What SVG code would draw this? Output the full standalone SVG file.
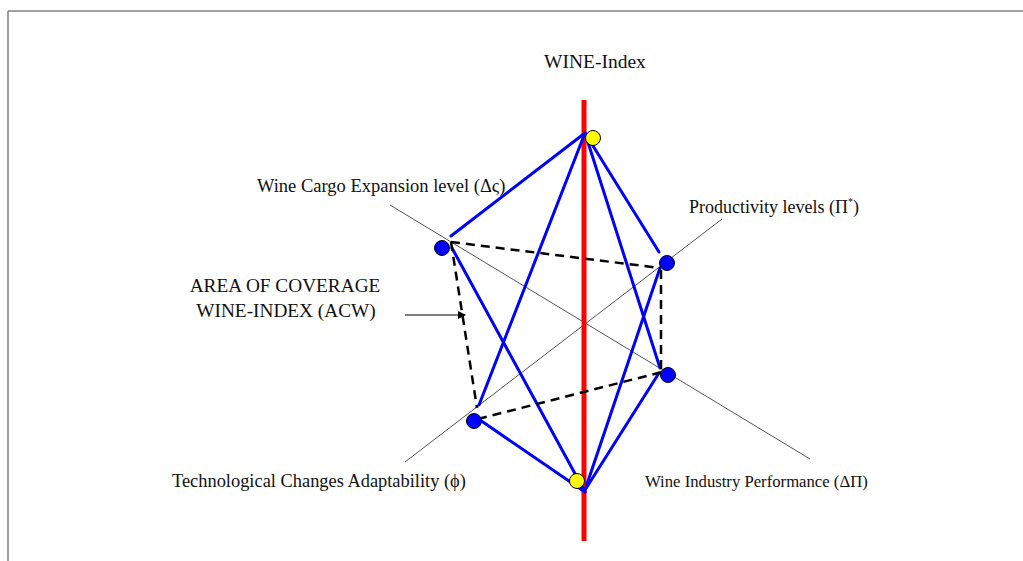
<svg xmlns="http://www.w3.org/2000/svg" width="1023" height="561" viewBox="0 0 1023 561">
<defs>
<style>
text{font-family:"Liberation Serif","Times New Roman",serif;fill:#111;}
.blue{stroke:#0000ff;stroke-width:3;fill:none;stroke-linecap:round;}
.dash{stroke:#000;stroke-width:2.5;stroke-dasharray:9,6;fill:none;}
.axis{stroke:#555;stroke-width:1;fill:none;}
.bnode{fill:#0000ff;stroke:#000;stroke-width:1;}
.ynode{fill:#ffff00;stroke:#000;stroke-width:1;}
</style>
<marker id="ah" markerWidth="8" markerHeight="8" refX="7" refY="4" orient="auto" markerUnits="userSpaceOnUse">
<path d="M0,0 L8,4 L0,8 z" fill="#000"/>
</marker>
</defs>
<rect width="1023" height="561" fill="#fff"/>
<g id="frame">
<line x1="8" y1="11" x2="1023" y2="11" stroke="#808080" stroke-width="1.5"/>
<line x1="8" y1="11" x2="8" y2="561" stroke="#808080" stroke-width="1.5"/>
</g>
<g id="connectors">
<line class="axis" x1="390" y1="205" x2="810" y2="459"/>
<line class="axis" x1="722" y1="219" x2="405" y2="462"/>
<line x1="584" y1="100" x2="584" y2="541" stroke="#ff0000" stroke-width="5"/>
<line class="blue" x1="585" y1="133" x2="451" y2="236"/>
<line class="blue" x1="585" y1="133" x2="479" y2="405"/>
<line class="blue" x1="585" y1="133" x2="659" y2="252"/>
<line class="blue" x1="585" y1="133" x2="660" y2="368"/>
<line class="blue" x1="452" y1="248" x2="585" y2="492"/>
<line class="blue" x1="480" y1="420" x2="585" y2="492"/>
<line class="blue" x1="585" y1="490" x2="660" y2="268"/>
<line class="blue" x1="585" y1="490" x2="659" y2="373"/>
<line class="dash" x1="451" y1="242" x2="660" y2="268"/>
<line class="dash" x1="451" y1="242" x2="477" y2="408"/>
<line class="dash" x1="661" y1="270" x2="661" y2="372"/>
<line class="dash" x1="478" y1="419" x2="662" y2="372"/>
<line x1="405" y1="315" x2="465" y2="315" stroke="#000" stroke-width="1.2" marker-end="url(#ah)"/>
</g>
<g id="node-top"><circle class="ynode" cx="593" cy="138" r="7.5"/></g>
<g id="node-bottom"><circle class="ynode" cx="577" cy="481" r="7.5"/></g>
<g id="node-cargo"><circle class="bnode" cx="442" cy="248" r="7.5"/></g>
<g id="node-productivity"><circle class="bnode" cx="667" cy="263" r="7.5"/></g>
<g id="node-performance"><circle class="bnode" cx="668" cy="375" r="7.5"/></g>
<g id="node-technology"><circle class="bnode" cx="474" cy="421" r="7.5"/></g>
<g id="labels">
<text x="544" y="68" font-size="19.5">WINE-Index</text>
<text x="257" y="192" font-size="18.5">Wine Cargo Expansion level (Δς)</text>
<text x="689" y="213" font-size="18">Productivity levels (Π<tspan font-size="10" dy="-8">*</tspan><tspan dy="8">)</tspan></text>
<text x="285" y="292" font-size="19.3" text-anchor="middle">AREA OF COVERAGE</text>
<text x="286" y="317" font-size="19.3" text-anchor="middle">WINE-INDEX (ACW)</text>
<text x="172" y="487" font-size="18.4">Technological Changes Adaptability (ϕ)</text>
<text x="645" y="487" font-size="16.7">Wine Industry Performance (ΔΠ)</text>
</g>
</svg>
